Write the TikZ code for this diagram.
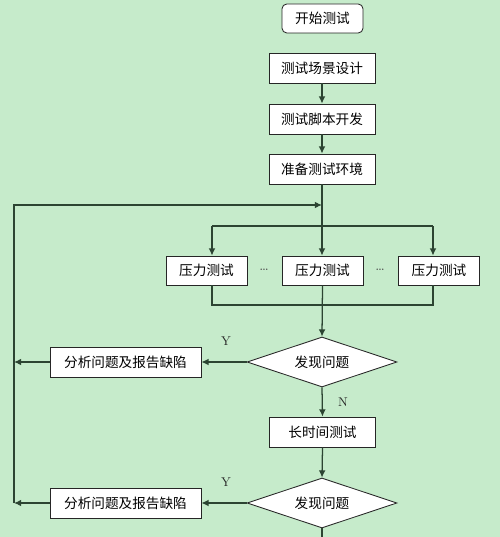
\documentclass[tikz,border=0pt]{standalone}
\usepackage{fontspec}
\newfontfamily\cjk{Noto Sans CJK SC}
\usetikzlibrary{shapes.geometric,arrows.meta}
\definecolor{bgGreen}{RGB}{198,235,203}
\definecolor{lineGreen}{RGB}{44,68,50}
\tikzset{
	box/.style={draw=black!85, fill=white, line width=0.6pt, inner sep=0pt, minimum width=26.5mm, minimum height=7.5mm, font=\cjk\fontsize{9.7}{11}\selectfont},
	startbox/.style={box, rounded corners=1.2mm, minimum width=20.25mm, minimum height=7.25mm},
	loadbox/.style={box, minimum width=20.25mm, minimum height=7.25mm},
	reportbox/.style={box, minimum width=37.75mm},
	decision/.style={box, diamond, shape aspect=3, minimum width=37.5mm, minimum height=12.5mm},
	flow/.style={draw=lineGreen, line width=0.9pt},
	arr/.style={flow, -{Latex[length=1.8mm,width=1.7mm]}},
	yn/.style={font=\fontsize{9}{10}\selectfont, text=black!85}
}

\begin{document}
\begin{tikzpicture}[x=0.25mm, y=-0.25mm]
		%%%%% START %%%%%
		
		\fill[bgGreen] (0, 0) rectangle (500, 537);
		\useasboundingbox (0, 0) rectangle (500, 537);
		
		\node[startbox] (start) at (322.5, 18.5) {开始测试};
		\node[box] (scene) at (322, 68) {测试场景设计};
		\node[box] (script) at (322, 119) {测试脚本开发};
		\node[box] (env) at (322, 169) {准备测试环境};
		
		\draw[arr] (scene) -- (script);
		\draw[arr] (script) -- (env);
		
		% parallel load tests
		\node[loadbox] (load1) at (206.5, 270.5) {压力测试};
		\node[loadbox] (load2) at (322.5, 270.5) {压力测试};
		\node[loadbox] (load3) at (439, 270.5) {压力测试};
		\node[text=black!70] (dots1) at (264, 270) {\ldots};
		\node[text=black!70] (dots2) at (380, 270) {\ldots};
		
		\coordinate (loop) at (322, 205);
		\coordinate (splitL) at (212, 226);
		\coordinate (splitR) at (433, 226);
		\coordinate (mergeL) at (212, 305);
		\coordinate (mergeR) at (433, 305);
		
		\draw[flow] (splitL) -- (splitR);
		\draw[arr] (env.south) -- (env.south |- load2.north);
		\draw[arr] (splitL) -- (splitL |- load1.north);
		\draw[arr] (splitR) -- (splitR |- load3.north);
		\draw[flow] (splitL |- load1.south) -- (mergeL) -- (mergeR) -- (splitR |- load3.south);
		
		% first check
		\node[decision] (find1) at (322, 362) {发现问题};
		\node[reportbox] (report1) at (125.5, 362) {分析问题及报告缺陷};
		\node[yn] (yes1) at (226, 341) {Y};
		
		\draw[arr] (load2.south) -- (find1.north);
		\draw[arr] (find1.west) -- (report1.east);
		\draw[arr] (report1.west) -- (14, 362);
		
		% long run
		\node[box] (longrun) at (322.5, 432) {长时间测试};
		\node[yn] (no1) at (343, 402) {N};
		\draw[arr] (find1.south) -- (longrun.north);
		
		% second check
		\node[decision] (find2) at (322, 503) {发现问题};
		\node[reportbox] (report2) at (125.5, 503) {分析问题及报告缺陷};
		\node[yn] (yes2) at (226, 482) {Y};
		
		\draw[arr] (longrun.south) -- (find2.north);
		\draw[arr] (find2.west) -- (report2.east);
		\draw[arr] (report2.west) -- (14, 503);
		\draw[flow] (find2.south) -- (322, 540);
		
		% back to the tests
		\draw[arr] (14, 503) -- (14, 205) -- (loop);
		
		%%%%% END %%%%%
	\end{tikzpicture}
\end{document}
